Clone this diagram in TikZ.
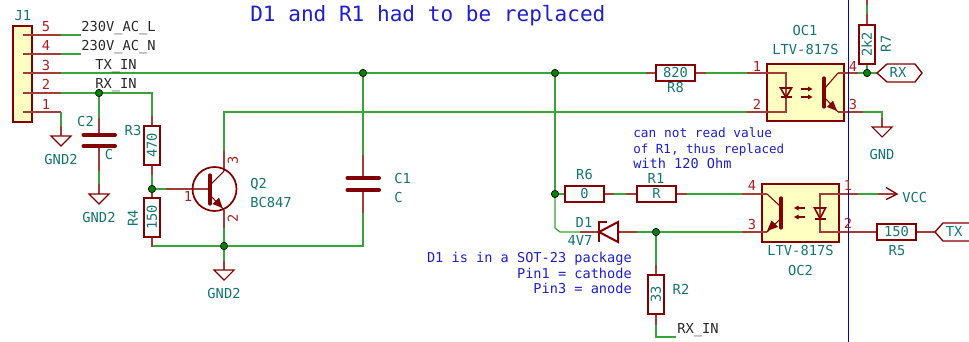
\documentclass[tikz,border=0pt]{standalone}
\usepackage{fontspec}
\setmainfont{DejaVu Sans Mono}
\definecolor{wirec}{RGB}{55,165,55}
\definecolor{symc}{RGB}{132,0,0}
\definecolor{pinc}{RGB}{165,60,60}
\definecolor{numc}{RGB}{175,30,30}
\definecolor{tealc}{RGB}{20,115,115}
\definecolor{bluec}{RGB}{30,30,205}
\definecolor{linec}{RGB}{0,0,194}
\definecolor{bodyc}{RGB}{255,255,194}
\definecolor{blackc}{RGB}{40,40,40}
\definecolor{dotc}{RGB}{0,132,0}
\tikzset{
  wire/.style={draw=wirec,line width=.95pt},
  pinline/.style={draw=pinc,line width=.95pt},
  symline/.style={draw=symc,line width=.8pt},
  symthick/.style={draw=symc,line width=1.5pt},
  plate/.style={draw=symc,line width=3pt,line cap=round},
  bar/.style={draw=symc,line width=2.4pt,line cap=round},
  txt/.style={font=\fontsize{10.3pt}{12pt}\selectfont,inner sep=0pt,text height=.73em,text depth=0pt},
  teal/.style={txt,text=tealc},
  num/.style={txt,text=numc},
  netl/.style={txt,text=blackc},
  note/.style={font=\fontsize{9.6pt}{12pt}\selectfont,inner sep=0pt,text=bluec,text height=.73em,text depth=0pt},
  notewide/.style={note,font=\fontsize{10.2pt}{12pt}\selectfont},
  res/.style={teal,draw=symc,line width=1.6pt,minimum width=29.25pt,minimum height=11.5pt,inner sep=0pt},
  body/.style={draw=symc,line width=2.2pt,fill=bodyc,inner sep=0pt},
  dot/.style={circle,fill=dotc,draw=black,line width=.4pt,minimum size=5.4pt,inner sep=0pt},
  tag/.style={draw=symc,line width=1pt}
}
\newcommand{\gndat}[1]{\draw[symline] (#1) ++(-10,0) -- ++(20,0) -- ++(-10,10) -- cycle;}
\begin{document}
\begin{tikzpicture}[x=0.75pt,y=-0.75pt]
\useasboundingbox (0,0) rectangle (969,342);
% ---- bodies
\node[body,minimum width=14.25pt,minimum height=72pt] (J1) at (22.5,74) {};
\node[body,minimum width=57.75pt,minimum height=42.75pt] (OC1) at (805.5,92.5) {};
\node[body,minimum width=57.75pt,minimum height=43.5pt] (OC2) at (800.5,213) {};
% ---- resistors
\node[res] (R8) at (675.5,73) {820};
\node[res] (R6) at (584.5,194) {0};
\node[res] (R1) at (656.5,194) {R};
\node[res] (R5) at (896.5,232) {150};
\node[res,rotate=90] (R3) at (152,145.5) {470};
\node[res,rotate=90] (R4) at (152,217.5) {150};
\node[res,rotate=90] (R2) at (656,294.5) {33};
\node[res,rotate=90] (R7) at (867,44.5) {2k2};
% ---- junctions and points
\coordinate (p5) at (23,35);\coordinate (p4) at (23,54);\coordinate (p3) at (23,73);\coordinate (p2) at (23,93);\coordinate (p1) at (23,112);
\coordinate (w5) at (61,35);\coordinate (w4) at (61,54);\coordinate (w3) at (61,73);\coordinate (w2) at (61,93);\coordinate (w1) at (61,112);
\coordinate (e5) at (81,35);\coordinate (e4) at (81,54);
\node[dot] (a) at (99,93) {};
\node[dot] (b) at (363,73) {};
\node[dot] (c) at (555,73) {};
\node[dot] (d) at (152,189) {};
\node[dot] (f) at (224,246) {};
\node[dot] (g) at (555,194) {};
\node[dot] (h) at (656,232) {};
\node[dot] (k) at (867,73) {};
\coordinate (g1) at (61,136);
\coordinate (g2) at (99,194);
\coordinate (g3) at (224,270);
\coordinate (g4) at (882,127);
\coordinate (o1a) at (747,73);\coordinate (o1b) at (747,112);
\coordinate (o1i) at (786,73);\coordinate (o1j) at (786,112);
\coordinate (o1c) at (838,73);\coordinate (o1e) at (838,112);
\coordinate (o1f) at (863,112);
\coordinate (o2a) at (742,194);\coordinate (o2b) at (742,232);
\coordinate (o2c) at (767,194);\coordinate (o2e) at (767,232);
\coordinate (o2i) at (820,194);\coordinate (o2j) at (820,232);
\coordinate (o2p) at (858,194);\coordinate (o2q) at (858,232);
\coordinate (vcc) at (897,194);
\coordinate (c1a) at (363,178);\coordinate (c1b) at (363,190);
\coordinate (c2a) at (99,135);\coordinate (c2b) at (99,146);
\coordinate (dk) at (599,232);\coordinate (da) at (618,232);
\coordinate (qe) at (224,210);\coordinate (qc) at (224,171);\coordinate (qb) at (210,189);
\coordinate (dbend) at (555,228);\coordinate (dbend2) at (560,232);
\coordinate (r7top) at (867,0);
\coordinate (rxt) at (877,73);\coordinate (txt) at (935,232);
\coordinate (rxe) at (656,337);\coordinate (rxn) at (676,337);
% ---- wires (the dots are redrawn on top below)
\draw[wire] (w5) -- (e5);
\draw[wire] (w4) -- (e4);
\draw[wire] (w3) -- (b.center) -- (c.center) -- (R8.west);
\draw[wire] (R8.east) -- (o1a);
\draw[wire] (w2) -- (a.center) -- (a.center -| R3) -- (R3.east);
\draw[wire] (a) -- (c2a);
\draw[wire] (w1) -- (g1);
\draw[wire] (c2b) -- (g2);
\draw[wire] (R3.west) -- (d) -- (R4.east);
\draw[wire] (d) -- (qb);
\draw[wire] (R4.west) -- (R4.west |- f.center) -- (f.center) -- (f.center -| c1b) -- (c1b);
\draw[wire] (b) -- (c1a);
\draw[wire] (f) -- (qe);
\draw[wire] (f) -- (g3);
\draw[wire] (qc) -- (qc |- o1b) -- (o1b);
\draw[wire] (c) -- (g);
\draw[wire] (g) -- (dbend) -- (dbend2) -- (dk);
\draw[wire] (g) -- (R6.west);
\draw[wire] (R6.east) -- (R1.west);
\draw[wire] (R1.east) -- (o2a);
\draw[wire] (da) -- (h.center) -- (o2b);
\draw[wire] (h) -- (R2.east);
\draw[wire] (R2.west) -- (rxe) -- (rxn);
\draw[wire] (o1f) -- (o1f -| g4) -- (g4);
\draw[wire] (o1c) -- (k) -- (R7.west);
\draw[wire] (R7.east) -- (r7top);
\draw[wire] (k) -- (rxt);
\draw[wire] (o2p) -- (vcc);
\draw[wire] (o2q) -- (R5.west);
\draw[wire] (R5.east) -- (txt);
% ---- pin stubs (dark ends over the wires)
\foreach \n in {5,4,3,2,1} {\draw[pinline] (p\n) -- (w\n); \draw[pinline,line width=1.4pt] (p\n) -- ++(9,0);}
\draw[pinline] (o1a) -- (o1i) -- (o1j) -- (o1b);
\draw[pinline] (o1c) -- ++(20,0);
\draw[pinline] (o1e) -- (o1f);
\draw[pinline] (o2a) -- (o2c);
\draw[pinline] (o2b) -- (o2e);
\draw[pinline] (o2p) -- (o2i) -- (o2j) -- (o2q);
\draw[pinline] (o2q) -- ++(9,0);
\draw[pinline] (o2p) ++(20,0) -- (vcc);
\draw[pinline] (R8.west) -- ++(-9,0);
\draw[pinline] (R8.east) -- ++(10,0);
\draw[pinline] (R6.east) -- ++(9,0);
\draw[pinline] (R1.west) -- ++(-10,0);
\draw[pinline] (R1.east) -- ++(10,0);
\draw[pinline] (R5.west) -- ++(-10,0);
\draw[pinline] (R5.east) -- ++(18,0);
\draw[pinline] (R3.east) -- ++(0,-9);
\draw[pinline] (R3.west) -- ++(0,9);
\draw[pinline] (R4.east) -- ++(0,-9);
\draw[pinline] (R4.west) -- ++(0,9);
\draw[pinline] (R2.east) -- ++(0,-9);
\draw[pinline] (R2.west) -- ++(0,10);
\draw[pinline] (R7.east) -- ++(0,-10);
\draw[pinline] (r7top) -- ++(0,5);
\draw[pinline] (g1) -- ++(0,-10);
\draw[pinline] (g2) -- ++(0,-10);
\draw[pinline] (g3) -- ++(0,-9);
\draw[pinline] (g4) -- ++(0,-9);
\draw[pinline] (c2a) -- ++(0,-17);
\draw[pinline] (c2b) -- ++(0,25);
\draw[pinline] (c1a) -- ++(0,-23);
\draw[pinline] (c1b) -- ++(0,23);
\draw[pinline] (qb) -- (166,189);
\draw[pinline] (qc) -- (224,151);
\draw[pinline] (qe) -- (224,228);
\draw[pinline] (dk) -- ++(-19,0);
\draw[pinline] (da) -- ++(19,0);
% ---- junction dots over the wires
\foreach \j in {a,b,c,d,f,g,h,k} {\node[dot] at (\j) {};}
% ---- capacitors
\draw[plate] (83.5,135) -- (115,135);
\draw[plate] (83.5,146) -- (115,146);
\draw[plate] (347.5,178) -- (379,178);
\draw[plate] (347.5,190) -- (379,190);
% ---- ground symbols
\gndat{g1}\gndat{g2}\gndat{g3}\gndat{g4}
% ---- transistor Q2
\draw[symline,line width=1.3pt] (214.5,189) circle (22);
\draw[bar] (210,175) -- (210,204);
\draw[symline] (211,184) -- (qc);
\draw[symline] (211,196) -- (qe);
\fill[symc] (222.5,208) -- (212.5,204) -- (219,197.5) -- cycle;
% ---- opto OC1
\draw[bar] (824,78) -- (824,107);
\draw[symline] (825,88) -- (o1c);
\draw[symline] (825,98) -- (o1e);
\fill[symc] (837,111) -- (827,107) -- (833,100.5) -- cycle;
\draw[symline,line width=1.2pt] (780.5,88) -- (791.5,88) -- (786,97.5) -- cycle;
\draw[symline,line width=1.5pt] (780.5,97.5) -- (791.5,97.5);
\draw[symline,line width=1.2pt] (801,89) -- (810,89);
\draw[symline,line width=1.2pt] (801,97) -- (810,97);
\fill[symc] (812.5,89) -- (808,86.5) -- (808,91.5) -- cycle;
\fill[symc] (812.5,97) -- (808,94.5) -- (808,99.5) -- cycle;
% ---- opto OC2
\draw[bar] (781,198) -- (781,228);
\draw[symline] (o2c) -- (780,206);
\draw[symline] (o2e) -- (780,219);
\fill[symc] (767,231) -- (771.5,220.5) -- (778,227) -- cycle;
\draw[symline,line width=1.2pt] (814.5,208) -- (825.5,208) -- (820,218.5) -- cycle;
\draw[symline,line width=1.5pt] (814.5,218.5) -- (825.5,218.5);
\draw[symline,line width=1.2pt] (796,208) -- (805,208);
\draw[symline,line width=1.2pt] (796,217) -- (805,217);
\fill[symc] (794,208) -- (798.5,205.5) -- (798.5,210.5) -- cycle;
\fill[symc] (794,217) -- (798.5,214.5) -- (798.5,219.5) -- cycle;
% ---- zener D1
\draw[symthick] (607,222) -- (599,222) -- (599,242);
\draw[symthick] (599,232) -- (618,222) -- (618,242) -- cycle;
% ---- VCC and hierarchical tags
\draw[symline,line width=1pt] (886,187.5) -- (vcc) -- (886,199.5);
\draw[tag] (rxt) -- (887,64) -- (915,64) -- (922,73) -- (915,82) -- (887,82) -- cycle;
\draw[tag] (txt) -- (943,223) -- (969,223) (969,241) -- (943,241) -- (txt);
% ---- blue divider
\draw[draw=linec,line width=.75pt] (848.5,0) -- (848.5,342);
% ---- texts
\node[teal] (tJ1) at (23,16) {J1};
\foreach \t/\y in {5/27,4/46,3/66,2/85,1/105} {\node[num] (n\t) at (46,\y) {\t};}
\node[netl,anchor=west] (t230l) at (81,27) {230V\_AC\_L};
\node[netl,anchor=west] (t230n) at (81,46) {230V\_AC\_N};
\node[netl,anchor=west] (ttx) at (95,65) {TX\_IN};
\node[netl,anchor=west] (trx) at (95,84) {RX\_IN};
\node[netl,anchor=west] (trx2) at (677,329) {RX\_IN};
\node[teal] (tC2) at (85.5,122) {C2};
\node[teal] (tC) at (109,155) {C};
\node[teal] (tR3) at (133,131) {R3};
\node[teal,rotate=90] (tR4) at (133,218) {R4};
\node[teal] (tg1) at (61,160) {GND2};
\node[teal] (tg2) at (99,218) {GND2};
\node[teal] (tg3) at (224,294) {GND2};
\node[teal] (tg4) at (882,155) {GND};
\node[num] (q1) at (188,197) {1};
\node[num,rotate=90] (q3) at (233,160) {3};
\node[num,rotate=90] (q2) at (233,218) {2};
\node[teal,anchor=west] (tQ2) at (250,184) {Q2};
\node[teal,anchor=west] (tBC) at (250,203) {BC847};
\node[teal,anchor=west] (tC1) at (394,179) {C1};
\node[teal,anchor=west] (tC1v) at (394,198) {C};
\node[teal] (tR8) at (675.5,88) {R8};
\node[teal] (tR6) at (584.5,175) {R6};
\node[teal] (tR1) at (656,179) {R1};
\node[teal] (tR5) at (897,251) {R5};
\node[teal] (tR2) at (681,290) {R2};
\node[teal,rotate=90] (tR7) at (886,44) {R7};
\node[teal] (tD1) at (584,223) {D1};
\node[teal] (tD1v) at (580,241) {4V7};
\node[teal] (tOC1) at (805,31) {OC1};
\node[teal] (tLT1) at (805.5,50) {LTV-817S};
\node[teal] (tLT2) at (800.5,251) {LTV-817S};
\node[teal] (tOC2) at (800.5,271) {OC2};
\node[num] (o11) at (757,67) {1};
\node[num] (o12) at (757,105) {2};
\node[num] (o14) at (853,67) {4};
\node[num] (o13) at (853,105) {3};
\node[num] (o24) at (752,186) {4};
\node[num] (o23) at (752,225) {3};
\node[num] (o21) at (848,186) {1};
\node[num] (o22) at (848,224) {2};
\node[teal,anchor=west] (tVCC) at (902,198) {VCC};
\node[teal] (tRX) at (898,73) {RX};
\node[teal] (tTX) at (954,232) {TX};
\node[note,font=\fontsize{15.8pt}{18pt}\selectfont,anchor=west] (title) at (250,17) {D1 and R1 had to be replaced};
\node[note,anchor=west] (n1) at (633,133) {can not read value};
\node[note,font=\fontsize{9.4pt}{12pt}\selectfont,anchor=west] (n2) at (633,149) {of R1, thus replaced};
\node[notewide,anchor=west] (n3) at (633,164) {with 120 Ohm};
\node[notewide,anchor=east] (n4) at (632,258) {D1 is in a SOT-23 package};
\node[notewide,anchor=east] (n5) at (632,274) {Pin1 = cathode};
\node[notewide,anchor=east] (n6) at (632,289) {Pin3 = anode};
\end{tikzpicture}
\end{document}
